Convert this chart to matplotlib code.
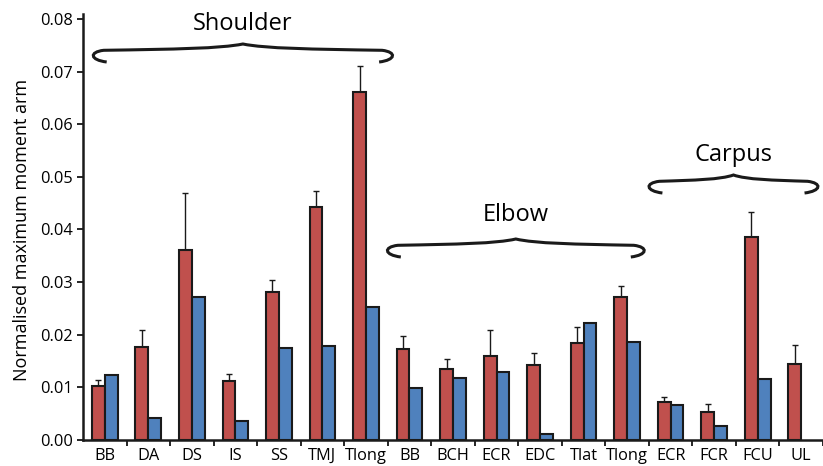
import matplotlib
matplotlib.use("Agg")
import matplotlib.pyplot as plt
from matplotlib.path import Path
from matplotlib.patches import PathPatch
import numpy as np

plt.rcParams['font.family'] = ['Open Sans', 'DejaVu Sans']

categories = ["BB", "DA", "DS", "IS", "SS", "TMJ", "Tlong",
              "BB", "BCH", "ECR", "EDC", "Tlat", "Tlong",
              "ECR", "FCR", "FCU", "UL"]
red_vals = [0.0103, 0.0177, 0.0361, 0.0113, 0.0281, 0.0443, 0.0661,
            0.0172, 0.0134, 0.0160, 0.0142, 0.0184, 0.0271,
            0.0072, 0.0053, 0.0386, 0.0144]
red_err = [0.0011, 0.0032, 0.0108, 0.0013, 0.0023, 0.0031, 0.0050,
           0.0026, 0.0019, 0.0049, 0.0024, 0.0031, 0.0021,
           0.0009, 0.0015, 0.0048, 0.0037]
blue_vals = [0.0123, 0.0042, 0.0272, 0.0036, 0.0175, 0.0179, 0.0252,
             0.0098, 0.0118, 0.0129, 0.0011, 0.0222, 0.0186,
             0.0067, 0.0026, 0.0116, 0.0]
groups = ["Shoulder", "Elbow", "Carpus"]
yticks = [0.00, 0.01, 0.02, 0.03, 0.04, 0.05, 0.06, 0.07, 0.08]

RED = "#C0504D"
BLUE = "#4F81BD"

fig = plt.figure(figsize=(8.23, 4.66), dpi=100)
ax = fig.add_axes([83/823, 26/466, 1 - 83/823, (440-19)/466])

x = np.arange(len(categories))
w = 0.295
ax.bar(x - w/2, red_vals, w, color=RED, edgecolor="#1a1a1a", linewidth=1.5, zorder=3)
blue_mask = np.array(blue_vals) > 0
ax.bar(x[blue_mask] + w/2, np.array(blue_vals)[blue_mask], w, color=BLUE,
       edgecolor="#1a1a1a", linewidth=1.5, zorder=3)
ax.errorbar(x - w/2, red_vals, yerr=[np.zeros(len(red_err)), red_err], fmt='none',
            ecolor="#1a1a1a", elinewidth=1.0, capsize=2.5, capthick=1.0, zorder=2)

ax.set_xlim(-0.5, (823-83)/44.1 - 0.5)
ax.set_ylim(0, 0.08)
ax.set_yticks(yticks)
ax.set_yticklabels([f"{v:.2f}" for v in yticks])
ax.set_xticks(x)
ax.set_xticklabels(categories)
ax.set_xticks(np.arange(len(categories)) + 0.5, minor=True)
ax.tick_params(axis='x', which='major', length=0, labelsize=11.8, pad=6)
ax.tick_params(axis='x', which='minor', length=4, width=1.2, direction='out')
ax.tick_params(axis='y', which='major', length=4, width=1.2, labelsize=11.8, direction='out')
for s in ['top', 'right']:
    ax.spines[s].set_visible(False)
for s in ['left', 'bottom']:
    ax.spines[s].set_linewidth(1.8)
    ax.spines[s].set_color("#1a1a1a")
ax.spines['left'].set_bounds(0, 0.081)
ax.set_ylabel("Normalised maximum moment arm", fontsize=13, labelpad=6)

p = 0.08 / 421.0  # one pixel in data units (y)
px = 1 / 44.1     # one pixel in data units (x)


def brace(x0, x1, yline, clip=False):
    xm = (x0 + x1) / 2
    hx = 15 * px
    verts = [
        (x0 + hx, yline - 12*p),
        (x0 - 2*px, yline - 10*p), (x0 - 3*px, yline - 2*p), (x0 + 0.8*hx, yline - 0.3*p),
        (x0 + (xm - x0)*0.55, yline + 0.8*p), (xm - (xm - x0)*0.15, yline + 1.5*p), (xm, yline + 6*p),
        (xm + (x1 - xm)*0.15, yline + 1.5*p), (x1 - (x1 - xm)*0.55, yline + 0.8*p), (x1 - 0.8*hx, yline - 0.3*p),
        (x1 + 3*px, yline - 2*p), (x1 + 2*px, yline - 10*p), (x1 - hx, yline - 12*p),
    ]
    codes = [Path.MOVETO] + [Path.CURVE4]*12
    patch = PathPatch(Path(verts, codes), facecolor='none', edgecolor="#1a1a1a",
                      linewidth=2.2, clip_on=clip)
    ax.add_patch(patch)
    return xm


def xd(pix):
    return (pix - 83) / 44.1 - 0.5


def yd(pix):
    return (440 - pix) * p


xm = brace(xd(92), xd(398), yd(50))
ax.text(xm, yd(24), groups[0], ha='center', va='center', fontsize=17)
xm = brace(xd(390), xd(653), yd(245))
ax.text(xm, yd(215), groups[1], ha='center', va='center', fontsize=17)
xm = brace(xd(655), xd(829), yd(181), clip=True)
ax.text(xm, yd(155), groups[2], ha='center', va='center', fontsize=17)

fig.savefig("out.png", dpi=100)
